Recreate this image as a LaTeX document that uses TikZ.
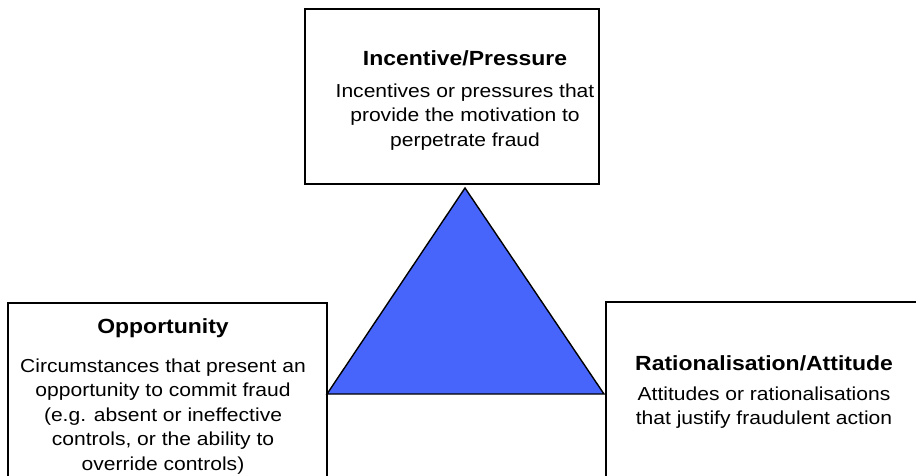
\documentclass[tikz,border=0pt]{standalone}
\usepackage{fontspec}
\setmainfont[FakeStretch=1.12]{Liberation Sans}
\definecolor{triblue}{RGB}{71,101,250}
\tikzset{
  x=1pt, y=-1pt,
  box/.style={draw=black, line width=1.5pt, fill=white, rectangle, inner sep=0pt},
  boxtext/.style={anchor=base, inner sep=0pt, font=\fontsize{18.8}{24.5}\selectfont},
  triangle/.style={draw=black, line width=1.4pt, fill=triblue, line join=miter}
}
\newcommand{\boxlines}[3]{\parbox[t]{316pt}{\centering{\fontsize{20.5}{24.5}\selectfont\bfseries #1}\\[#2]#3}}
\begin{document}
\begin{tikzpicture}
\useasboundingbox (0,0) rectangle (916,475);
% three boxes
\node[box, minimum width=294pt, minimum height=175pt] (incentive) at (452,96.5) {};
\node[box, minimum width=319pt, minimum height=217pt] (opportunity) at (167.5,411.5) {};
\node[box, minimum width=319pt, minimum height=218pt] (rationalisation) at (765.5,411) {};
% the fraud triangle between them
\coordinate (apex) at (465,188);
\coordinate (baseL) at (327,394);
\coordinate (baseR) at (604,394);
\draw[triangle] (apex) -- (baseL) -- (baseR) -- cycle;
% box texts
\node[boxtext] (incentive-text) at (465,65)
  {\boxlines{Incentive/Pressure}{7.5pt}{Incentives or pressures that\\provide the motivation to\\perpetrate fraud}};
\node[boxtext] (opportunity-text) at (163,333)
  {\boxlines{Opportunity}{14.5pt}{Circumstances that present an\\opportunity to commit fraud\\(e.g. absent or ineffective\\controls, or the ability to\\override controls)}};
\node[boxtext] (rationalisation-text) at (764,370)
  {\boxlines{Rationalisation/Attitude}{5.5pt}{Attitudes or rationalisations\\that justify fraudulent action}};
\end{tikzpicture}
\end{document}
